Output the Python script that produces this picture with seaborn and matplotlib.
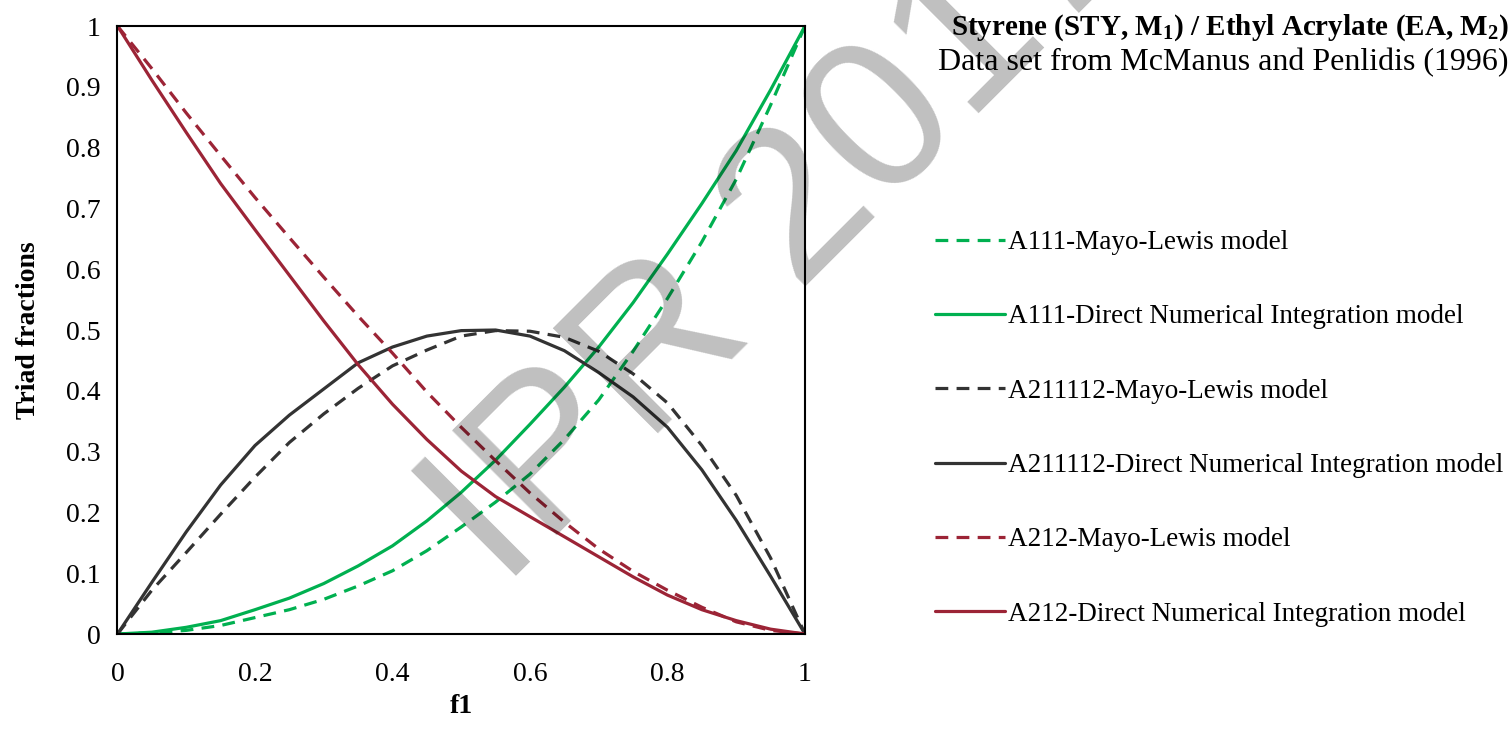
import numpy as np
import pandas as pd
import matplotlib
matplotlib.use("Agg")
import matplotlib.pyplot as plt
import seaborn as sns

# monomer 1 feed fraction
f1 = [0, 0.05, 0.1, 0.15, 0.2, 0.25, 0.3, 0.35, 0.4, 0.45, 0.5,
      0.55, 0.6, 0.65, 0.7, 0.75, 0.8, 0.85, 0.9, 0.95, 1]

# triad fractions
a111_ml = [0, 0.002, 0.006, 0.014, 0.027, 0.04, 0.057, 0.079, 0.104, 0.137, 0.176,
           0.217, 0.263, 0.32, 0.385, 0.465, 0.552, 0.645, 0.748, 0.87, 1]
a111_dni = [0, 0.003, 0.011, 0.022, 0.04, 0.059, 0.083, 0.112, 0.145, 0.186, 0.233,
            0.286, 0.345, 0.406, 0.472, 0.545, 0.625, 0.708, 0.795, 0.895, 1]
a211112_ml = [0, 0.072, 0.134, 0.197, 0.258, 0.315, 0.362, 0.404, 0.441, 0.467, 0.49,
              0.499, 0.498, 0.488, 0.465, 0.428, 0.38, 0.31, 0.228, 0.125, 0]
a211112_dni = [0, 0.085, 0.168, 0.245, 0.31, 0.36, 0.403, 0.446, 0.472, 0.49, 0.499,
               0.5, 0.49, 0.466, 0.43, 0.39, 0.34, 0.27, 0.187, 0.095, 0]
a212_ml = [1, 0.93, 0.857, 0.787, 0.718, 0.652, 0.587, 0.523, 0.462, 0.398, 0.34,
           0.285, 0.232, 0.184, 0.14, 0.103, 0.072, 0.044, 0.02, 0.006, 0]
a212_dni = [1, 0.911, 0.825, 0.741, 0.665, 0.59, 0.515, 0.443, 0.378, 0.32, 0.268,
            0.226, 0.193, 0.16, 0.127, 0.094, 0.064, 0.04, 0.022, 0.008, 0]

labels = ["A111-Mayo-Lewis model",
          "A111-Direct Numerical Integration model",
          "A211112-Mayo-Lewis model",
          "A211112-Direct Numerical Integration model",
          "A212-Mayo-Lewis model",
          "A212-Direct Numerical Integration model"]
series = [a111_ml, a111_dni, a211112_ml, a211112_dni, a212_ml, a212_dni]

green = "#00B050"
dark = "#333333"
red = "#9C2436"
colors = [green, green, dark, dark, red, red]
dash = (4, 2.6)
dash_styles = [dash, "", dash, "", dash, ""]

# long table for seaborn
rows = []
for lab, vals in zip(labels, series):
    for x, y in zip(f1, vals):
        rows.append([lab, x, y])
df = pd.DataFrame(rows, columns=["series", "f1", "frac"])

sns.set_style("white")
plt.rcParams["font.family"] = ["Liberation Serif", "DejaVu Serif"]
plt.rcParams["mathtext.fontset"] = "custom"
plt.rcParams["mathtext.rm"] = "Liberation Serif"
plt.rcParams["mathtext.bf"] = "Liberation Serif:bold"
for k in ["text.color", "axes.labelcolor", "xtick.color", "ytick.color"]:
    plt.rcParams[k] = "black"

fig = plt.figure(figsize=(15.12, 7.35), dpi=100)
ax = fig.add_axes([0.0777, 0.1374, 0.4547, 0.8272])

sns.lineplot(data=df, x="f1", y="frac", hue="series", style="series",
             hue_order=labels, style_order=labels,
             palette=dict(zip(labels, colors)),
             dashes=dict(zip(labels, dash_styles)),
             linewidth=2.3, ax=ax)

ax.set_xlim(0, 1)
ax.set_ylim(0, 1)
ax.set_xticks([0, 0.2, 0.4, 0.6, 0.8, 1])
ax.set_xticklabels(["0", "0.2", "0.4", "0.6", "0.8", "1"])
ax.set_yticks(np.arange(0, 1.01, 0.1))
ax.set_yticklabels(["0", "0.1", "0.2", "0.3", "0.4", "0.5", "0.6", "0.7", "0.8", "0.9", "1"])
ax.tick_params(length=0, labelsize=20)
ax.tick_params(axis="y", pad=12)
ax.tick_params(axis="x", pad=20)
for s in ax.spines.values():
    s.set_visible(True)
    s.set_color("black")
    s.set_linewidth(1.5)

ax.set_xlabel("f1", fontsize=20, fontweight="bold", labelpad=5)
ax.set_ylabel("Triad fractions", fontsize=20, fontweight="bold", labelpad=18)

# legend on the right, no frame
handles, labs = ax.get_legend_handles_labels()
ax.get_legend().remove()
for h in handles:
    h.set_linewidth(2.3)
fig.legend(handles, labs, loc="upper left", bbox_to_anchor=(0.6023, 0.72),
           frameon=False, fontsize=19.5, handlelength=2.58, handletextpad=0.1,
           labelspacing=1.82)

fig.text(0.998, 0.962, r"Styrene (STY, M$_\mathbf{1}$) / Ethyl Acrylate (EA, M$_\mathbf{2}$)",
         ha="right", va="center", fontsize=21, fontweight="bold")
fig.text(0.998, 0.915, "Data set from McManus and Penlidis (1996)",
         ha="right", va="center", fontsize=23)

# watermark
fig.text(0.3323, 0.198, "IPR 2017", rotation=45, rotation_mode="anchor",
         fontsize=155, family="Liberation Sans", color="black", alpha=0.25,
         ha="left", va="baseline", zorder=10)

fig.savefig("out.png", dpi=100)
